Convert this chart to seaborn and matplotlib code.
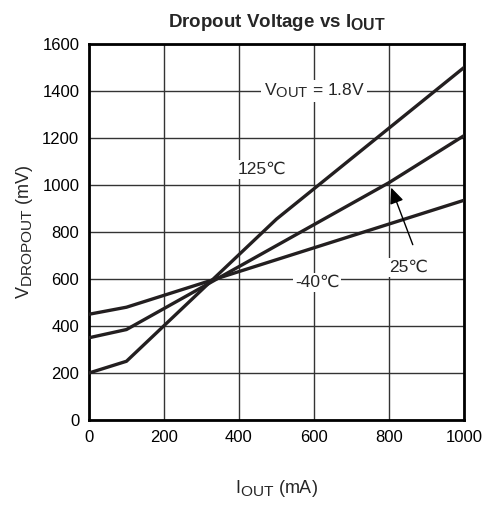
import matplotlib
matplotlib.use("Agg")
import matplotlib.pyplot as plt
from matplotlib import _mathtext
import seaborn as sns
import pandas as pd

# bigger subscripts, like the datasheet style
_mathtext.SHRINK_FACTOR = 0.85

# data
iout_125 = [0, 100, 500, 1000]
vdrop_125 = [200, 250, 855, 1500]
iout_25 = [0, 100, 800, 1000]
vdrop_25 = [350, 385, 1010, 1210]
iout_m40 = [0, 100, 1000]
vdrop_m40 = [450, 480, 935]

x_ticks = [0, 200, 400, 600, 800, 1000]
y_ticks = [0, 200, 400, 600, 800, 1000, 1200, 1400, 1600]

sns.set_theme(style="white")
plt.rcParams["font.family"] = ["Liberation Sans", "DejaVu Sans"]
plt.rcParams["mathtext.fontset"] = "custom"
plt.rcParams["mathtext.rm"] = "Liberation Sans"
plt.rcParams["mathtext.bf"] = "Liberation Sans:bold"

frames = []
for name, xs, ys in [("125", iout_125, vdrop_125), ("25", iout_25, vdrop_25), ("-40", iout_m40, vdrop_m40)]:
    frames.append(pd.DataFrame({"iout": xs, "vdrop": ys, "temp": name}))
df = pd.concat(frames, ignore_index=True)

fig = plt.figure(figsize=(4.82, 5.08), dpi=100)
ax = fig.add_axes([0.1846, 0.1732, 0.7781, 0.7402])

sns.lineplot(data=df, x="iout", y="vdrop", hue="temp", units="temp", estimator=None,
             palette=["#231f20"] * 3, linewidth=2.4, legend=False, ax=ax, zorder=3)

ax.set_xlim(0, 1000)
ax.set_ylim(0, 1600)
ax.set_xticks(x_ticks)
ax.set_yticks(y_ticks)
ax.tick_params(axis="both", length=0, labelsize=12, colors="black", pad=7)
ax.grid(True, color="#333333", linewidth=1.0)
ax.set_axisbelow(True)
for s in ax.spines.values():
    s.set_color("black")
    s.set_linewidth(2)

ax.set_xlabel(r"$\mathregular{I_{OUT}}$ (mA)", fontsize=13, labelpad=24)
ax.set_ylabel(r"$\mathregular{V_{DROPOUT}}$ (mV)", fontsize=13, labelpad=5)
ax.set_title(r"Dropout Voltage vs $\mathbf{I_{OUT}}$", fontsize=13.5, fontweight="bold", pad=12)

box = dict(facecolor="white", edgecolor="none", pad=1.5)
ax.text(600, 1400, r"$\mathregular{V_{OUT}}$ = 1.8V", fontsize=12.5, ha="center", va="center", bbox=box, zorder=4)
ax.text(397, 1065, "125℃", fontsize=12.5, ha="left", va="center", bbox=box, zorder=4)
ax.text(608, 585, "-40℃", fontsize=12.5, ha="center", va="center", bbox=box, zorder=4)
ax.text(852, 650, "25℃", fontsize=12.5, ha="center", va="center", bbox=box, zorder=4)
ax.annotate("", xy=(803, 1000), xytext=(866, 735),
            arrowprops=dict(arrowstyle="-|>,head_length=0.8,head_width=0.35", color="black", lw=1), zorder=5)

fig.savefig("out.png", dpi=100)
